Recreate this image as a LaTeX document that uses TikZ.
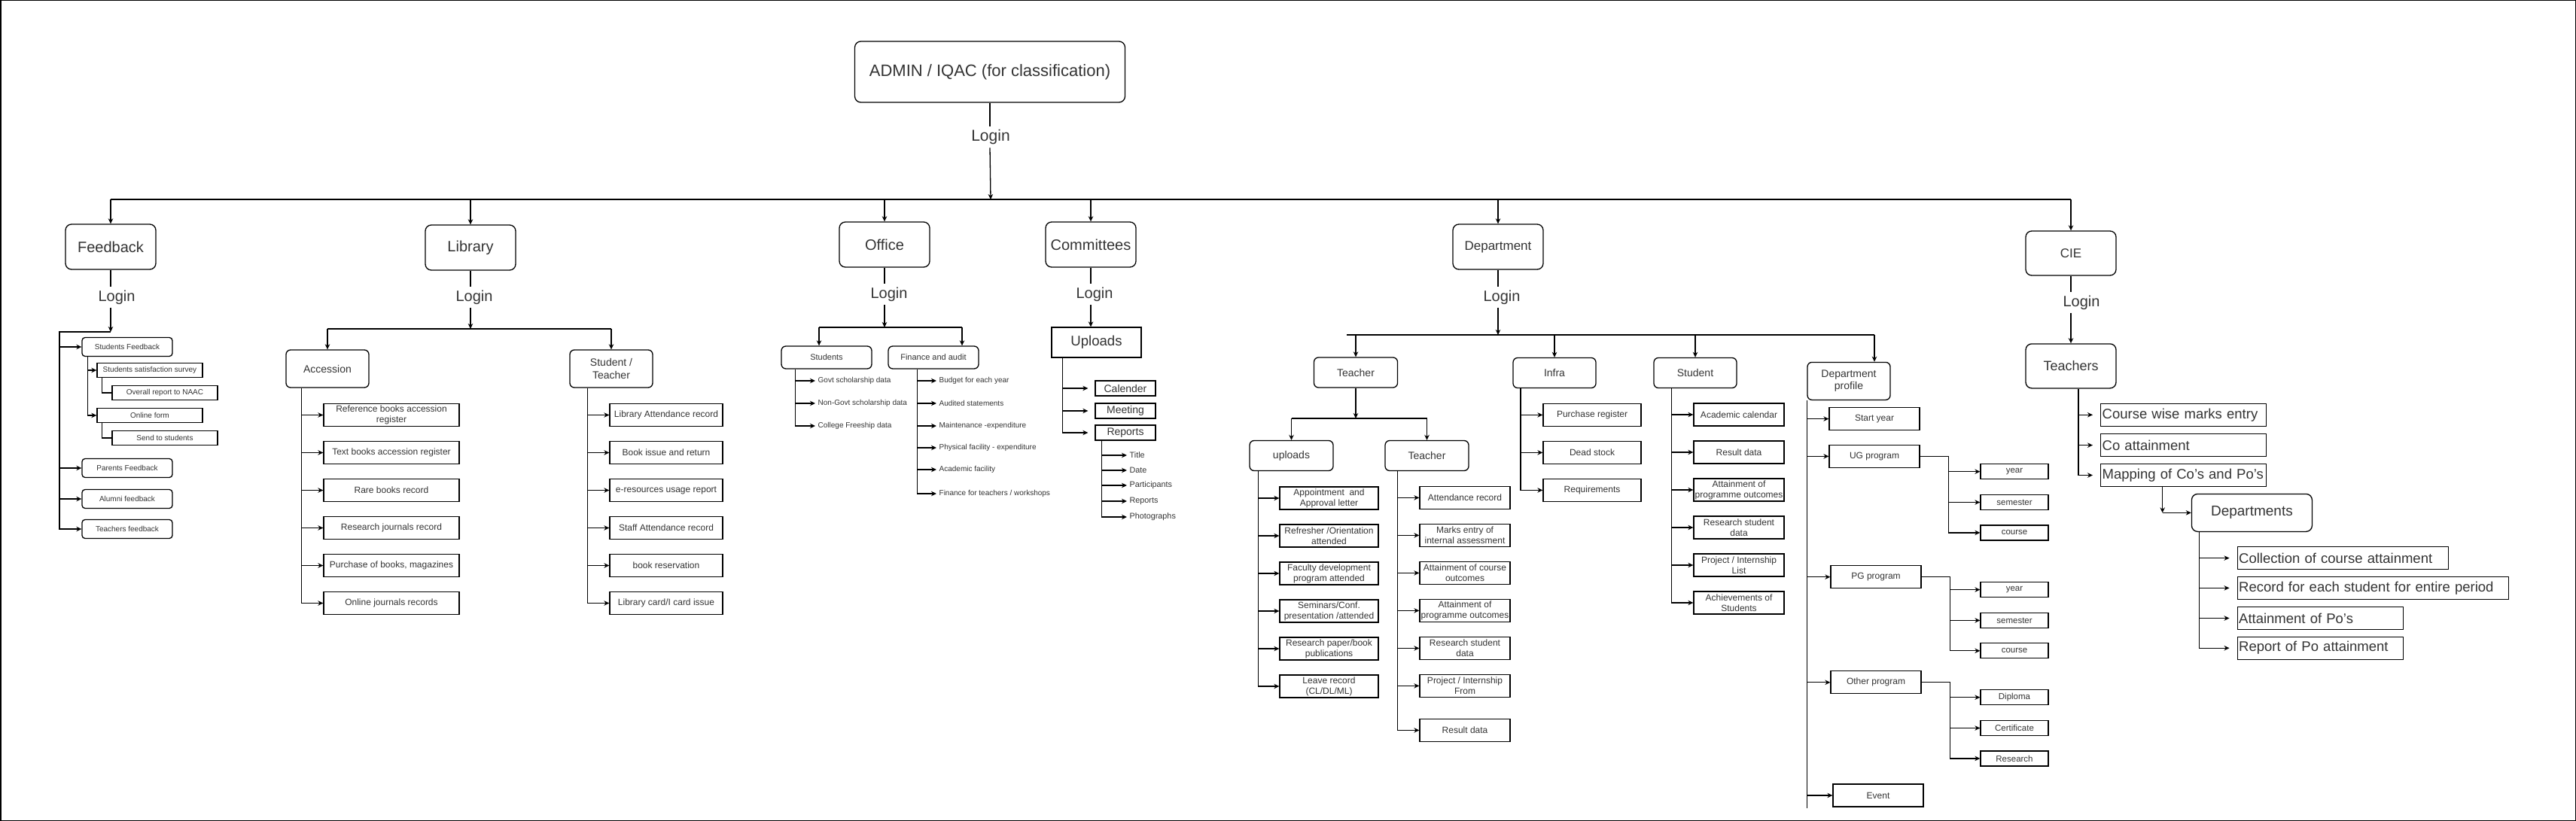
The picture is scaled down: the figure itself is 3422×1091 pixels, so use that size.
\documentclass[tikz,border=0pt]{standalone}
\usepackage{fontspec}
\setmainfont{Liberation Sans}
\usetikzlibrary{arrows.meta}
\newcommand\fsz[2]{\fontsize{#1}{#2}\selectfont}
\begin{document}
\begin{tikzpicture}[x=1pt, y=-1pt, line width=1.3pt, >={Stealth[length=7pt,width=6.5pt]}, text=black!80]
\tikzset{head/.style={draw, rounded corners=8pt, minimum width=120pt, minimum height=60pt, font=\fsz{20}{23}},
	login/.style={inner sep=4pt, font=\fsz{20}{23}},
	rbox/.style={draw, rounded corners=6pt, align=center, inner sep=1pt},
	box/.style={draw, align=center, inner sep=1pt},
	leaf/.style={anchor=west, inner sep=3pt, font=\fsz{10}{12}},
	fbitem/.style={rbox, rounded corners=4pt, minimum width=120pt, minimum height=25pt, font=\fsz{10}{12}},
	fbsub/.style={box, minimum width=140pt, minimum height=19pt, font=\fsz{10}{12}},
	libitem/.style={box, minimum width=180pt, minimum height=30pt, font=\fsz{12}{14}},
	obox/.style={rbox, minimum width=120pt, minimum height=30pt, font=\fsz{11}{13}},
	cbox/.style={box, minimum width=80pt, minimum height=20pt, inner sep=0pt, font=\fsz{14}{16}},
	dbox/.style={rbox, minimum width=110pt, minimum height=40pt, font=\fsz{14}{16}},
	ditem/.style={box, minimum width=120pt, minimum height=30pt, font=\fsz{12}{14}},
	ybox/.style={box, minimum width=90pt, minimum height=20pt, inner sep=0pt, font=\fsz{11.5}{13}},
	cbig/.style={draw, anchor=west, inner sep=2pt, align=left, minimum height=30pt, font=\fsz{18.5}{22}}}
\useasboundingbox (0,0) rectangle (3422,1091);
\draw[line width=1.5pt] (0.75,0.75) rectangle (3421.25,1090.25);
\node[rbox, rounded corners=8pt, minimum width=359pt, minimum height=81pt, font=\fsz{22}{26}] (admin) at (1315,95.5) {ADMIN / IQAC (for classification)};
\node[login, font=\fsz{21}{24}] (login) at (1316,182) {Login};
\coordinate (bus) at (1316,265);
\draw (admin.south) -- (admin.south |- login.north);
\draw[->] (admin.south |- login.south) -- (bus);
\node[head] (fb) at (147,328) {Feedback};
\node[head] (lib) at (625,329) {Library};
\node[head] (off) at (1175,325) {Office};
\node[head] (com) at (1449,325) {Committees};
\node[head, font=\fsz{17}{20}] (dep) at (1990,328) {Department};
\node[head, font=\fsz{17}{20}, minimum height=59pt] (cie) at (2751,336.5) {CIE};
\draw (fb.north |- bus) -- (cie.north |- bus);
\foreach \n in {fb,lib,off,com,dep,cie} \draw[->] (\n.north |- bus) -- (\n.north);

\node[login] (fbl) at (155,395) {Login};
\coordinate (fbj) at (147,441);
\coordinate (fbs) at (79,441);
\draw (fb.south) -- (fb.south |- fbl.north);
\draw[->] (fb.south |- fbl.south) -- (fbj);
\node[fbitem] (sf) at (169,461) {Students Feedback};
\node[fbitem] (pf) at (169,622) {Parents Feedback};
\node[fbitem] (af) at (169,663) {Alumni feedback};
\node[fbitem] (tf) at (169,703) {Teachers feedback};
\draw[->] (fbj) -- (fbs) |- (tf.west);
\foreach \n in {sf,pf,af} \draw[->] (fbs |- \n.west) -- (\n.west);
\node[fbsub] (sss) at (199,492) {Students satisfaction survey};
\node[fbsub] (onr) at (219,522) {Overall report to NAAC};
\node[fbsub] (onf) at (199,552) {Online form};
\node[fbsub] (sts) at (219,582) {Send to students};
\coordinate (sfx) at ([xshift=8pt]sf.south west);
\draw[->] (sfx) |- (onf.west);
\draw[->] (sfx |- sss.west) -- (sss.west);
\draw ([xshift=7pt]sss.south west) |- (onr.west);
\draw ([xshift=7pt]onf.south west) |- (sts.west);

\node[login] (libl) at (630,395) {Login};
\coordinate (libj) at (625,437);
\draw (lib.south) -- (lib.south |- libl.north);
\draw[->] (lib.south |- libl.south) -- (libj);
\node[rbox, minimum width=110pt, minimum height=50pt, font=\fsz{14}{16.5}] (acc) at (435,490) {Accession};
\node[rbox, minimum width=110pt, minimum height=50pt, font=\fsz{14}{16.5}] (st) at (812,490) {Student /\\Teacher};
\draw (acc.north |- libj) -- (st.north |- libj);
\draw[->] (acc.north |- libj) -- (acc.north);
\draw[->] (st.north |- libj) -- (st.north);
\foreach \t [count=\i] in {{Reference books accession\\register}, Text books accession register, Rare books record, Research journals record, {Purchase of books, magazines}, Online journals records}
	\node[libitem] (acc\i) at (520,{501.5+50*\i}) {\t};
\foreach \t [count=\i] in {Library Attendance record, Book issue and return, e-resources usage report, Staff Attendance record, book reservation, {Library card/I card issue}}
	\node[libitem, minimum width=150pt] (st\i) at (885,{501.5+50*\i}) {\t};
\coordinate (accs) at ([xshift=21pt]acc.south west);
\coordinate (sts) at ([xshift=24pt]st.south west);
\draw[->] (accs) |- (acc6.west);
\draw[->] (sts) |- (st6.west);
\foreach \i in {1,...,5} {
	\draw[->] (accs |- acc\i.west) -- (acc\i.west);
	\draw[->] (sts |- st\i.west) -- (st\i.west);
}

\node[login] (offl) at (1181,391) {Login};
\coordinate (offj) at (1175,435);
\draw (off.south) -- (off.south |- offl.north);
\draw[->] (off.south |- offl.south) -- (offj);
\node[obox] (ost) at (1098,475) {Students};
\node[obox] (ofa) at (1240,475) {Finance and audit};
\coordinate (ostin) at ([xshift=-10pt]ost.north);
\coordinate (ofain) at ([xshift=38pt]ofa.north);
\draw (ostin |- offj) -- (ofain |- offj);
\draw[->] (ostin |- offj) -- (ostin);
\draw[->] (ofain |- offj) -- (ofain);
\foreach \y/\t [count=\i] in {506/Govt scholarship data, 536/Non-Govt scholarship data, 566/College Freeship data}
	\node[leaf] (og\i) at (1083,\y) {\t};
\foreach \y/\t [count=\i] in {506/Budget for each year, 536/Audited statements, 566/Maintenance -expenditure, 595/Physical facility - expenditure, 624/Academic facility, 656/{Finance for teachers / workshops}}
	\node[leaf] (of\i) at (1244,\y) {\t};
\coordinate (osts) at ([xshift=19pt]ost.south west);
\coordinate (ofas) at ([xshift=39pt]ofa.south west);
\draw[->] (osts) |- (og3.west);
\foreach \i in {1,2} \draw[->] (osts |- og\i.west) -- (og\i.west);
\draw[->] (ofas) |- (of6.west);
\foreach \i in {1,...,5} \draw[->] (ofas |- of\i.west) -- (of\i.west);

\node[login] (coml) at (1454,391) {Login};
\node[box, minimum width=119pt, minimum height=40pt, font=\fsz{18.6}{21}] (upl) at (1456.5,455) {Uploads};
\draw (com.south) -- (com.south |- coml.north);
\draw[->] (com.south |- coml.south) -- (com.south |- upl.north);
\node[cbox] (cal) at (1495,516) {Calender};
\node[cbox] (mee) at (1495,546) {Meeting};
\node[cbox] (rep) at (1495,575) {Reports};
\coordinate (upls) at ([xshift=15pt]upl.south west);
\draw[->, shorten >=9pt] (upls) |- (rep.west);
\foreach \n in {cal,mee} \draw[->, shorten >=9pt] (upls |- \n.west) -- (\n.west);
\foreach \y/\t [count=\i] in {605/Title, 625/Date, 645/Participants, 666/Reports, 687/Photographs}
	\node[leaf, font=\fsz{10.8}{13}] (rl\i) at (1497,\y) {\t};
\coordinate (reps) at ([xshift=9pt]rep.south west);
\draw[->] (reps) |- (rl5.west);
\foreach \i in {1,...,4} \draw[->] (reps |- rl\i.west) -- (rl\i.west);

\node[login] (depl) at (1995,395) {Login};
\coordinate (depj) at (1990,445);
\draw (dep.south) -- (dep.south |- depl.north);
\draw[->] (dep.south |- depl.south) -- (depj);
\node[dbox, minimum width=111pt] (dtea) at (1801,495) {Teacher};
\node[dbox] (inf) at (2065,495.5) {Infra};
\node[dbox] (stu) at (2252,495.5) {Student};
\node[dbox, minimum height=50pt] (dpr) at (2456,506.4) {Department\\profile};
\coordinate (dprin) at ([xshift=34pt]dpr.north);
\draw ([xshift=-12pt]dtea.north |- depj) -- (dprin |- depj);
\foreach \n in {dtea.north, inf.north, stu.north, dprin} \draw[->] (\n |- depj) -- (\n);

\coordinate (dtj) at (1801,556);
\draw[->] (dtea.south) -- (dtj);
\node[dbox, minimum width=111pt] (upd) at (1715.5,605.5) {uploads};
\node[dbox, minimum width=111pt] (dte) at (1895.5,605.5) {Teacher};
\draw (upd.north |- dtj) -- (dte.north |- dtj);
\draw[->] (upd.north |- dtj) -- (upd.north);
\draw[->] (dte.north |- dtj) -- (dte.north);
\foreach \t [count=\i] in {{Appointment\ \ and\\Approval letter}, {Refresher /Orientation\\attended}, {Faculty development\\program attended}, {Seminars/Conf.\\presentation /attended}, {Research paper/book\\publications}, {Leave record\\(CL/DL/ML)}}
	\node[ditem, minimum width=131pt] (up\i) at (1765.5,{612+50*\i}) {\t};
\foreach \t [count=\i] in {Attendance record, {Marks entry of\\internal assessment}, {Attainment of course\\outcomes}, {Attainment of\\programme outcomes}, {Research student\\data}, {Project / Internship\\From}}
	\node[ditem] (te\i) at (1946,{611.4+50*\i}) {\t};
\node[ditem] (te7) at (1946,970.4) {Result data};
\coordinate (upds) at ([xshift=12pt]upd.south west);
\coordinate (dtes) at ([xshift=17pt]dte.south west);
\draw[->] (upds) |- (up6.west);
\draw[->] (dtes) |- (te7.west);
\foreach \i in {1,...,5} \draw[->] (upds |- up\i.west) -- (up\i.west);
\foreach \i in {1,...,6} \draw[->] (dtes |- te\i.west) -- (te\i.west);

\foreach \t [count=\i] in {Purchase register, Dead stock, Requirements}
	\node[ditem, minimum width=130pt] (in\i) at (2115,{501.4+50*\i}) {\t};
\coordinate (infs) at ([xshift=10.5pt]inf.south west);
\draw[->] (infs) |- (in3.west);
\foreach \i in {1,2} \draw[->] (infs |- in\i.west) -- (in\i.west);
\foreach \t [count=\i] in {Academic calendar, Result data, {Attainment of\\programme outcomes}, {Research student\\data}, {Project / Internship\\List}, {Achievements of\\Students}}
	\node[ditem] (su\i) at (2310,{501+50*\i}) {\t};
\coordinate (stus) at ([xshift=24pt]stu.south west);
\draw[->] (stus) |- (su6.west);
\foreach \i in {1,...,5} \draw[->] (stus |- su\i.west) -- (su\i.west);

\node[ditem] (sty) at (2490,556.6) {Start year};
\node[ditem] (ug) at (2490,606.4) {UG program};
\node[ditem] (pg) at (2492,766.7) {PG program};
\node[ditem] (oth) at (2492,906.8) {Other program};
\node[ditem] (ev) at (2495,1057) {Event};
\coordinate (dprs) at (dpr.south west);
\draw (dprs) -- ++(0,542);
\foreach \n in {sty,ug,pg,oth,ev} \draw[->] (dprs |- \n.west) -- (\n.west);
\foreach \p/\y/\la/\lb/\lc in {ug/626.7/year/semester/course, pg/783.6/year/semester/course, oth/926.7/Diploma/Certificate/Research} {
	\coordinate (\p-b) at ([xshift=38pt]\p.east);
	\node[ybox] (\p-1) at (2676,\y) {\la};
	\node[ybox] (\p-2) at (2676,{\y+40.8}) {\lb};
	\node[ybox] (\p-3) at (2676,{\y+81.2}) {\lc};
	\draw[->] (\p.east) -- (\p-b) |- (\p-3.west);
	\draw[->] (\p-b |- \p-1.west) -- (\p-1.west);
	\draw[->] (\p-b |- \p-2.west) -- (\p-2.west);
}

\node[login] (ciel) at (2765,402) {Login};
\node[head, font=\fsz{18}{21}, minimum height=59pt] (ctea) at (2751,486.4) {Teachers};
\draw (cie.south) -- (cie.south |- ciel.north);
\draw[->] (cie.south |- ciel.south) -- (ctea.north);
\foreach \y/\t [count=\i] in {551.3/Course wise marks entry, 591.6/Co attainment, 631.5/{Mapping of Co's and Po's}}
	\node[cbig, text width=216pt] (cw\i) at (2790,\y) {\t};
\coordinate (cteas) at ([xshift=10pt]ctea.south);
\draw[->, shorten >=10pt] (cteas) |- (cw3.west);
\foreach \i in {1,2} \draw[->, shorten >=10pt] (cteas |- cw\i.west) -- (cw\i.west);
\node[head, minimum width=160pt, minimum height=50pt, font=\fsz{19}{22}] (dpt) at (2991.4,681.4) {Departments};
\coordinate (mapx) at ([xshift=-28pt]cw3.south);
\coordinate (cj) at (mapx |- dpt.west);
\draw[->] (mapx) -- (cj);
\draw[->] (cj) -- (dpt.west);
\node[cbig, text width=276pt] (dc1) at (2971.5,741.6) {Collection of course attainment};
\node[cbig, text width=356pt] (dc2) at (2971.5,781.4) {Record for each student for entire period};
\node[cbig, text width=216pt] (dc3) at (2971.5,821.5) {Attainment of Po's};
\node[cbig, text width=216pt] (dc4) at (2971.5,861.2) {Report of Po attainment};
\coordinate (dpts) at ([xshift=11pt]dpt.south west);
\draw[->, shorten >=10pt] (dpts) |- (dc4.west);
\foreach \i in {1,2,3} \draw[->, shorten >=10pt] (dpts |- dc\i.west) -- (dc\i.west);
\end{tikzpicture}
\end{document}
